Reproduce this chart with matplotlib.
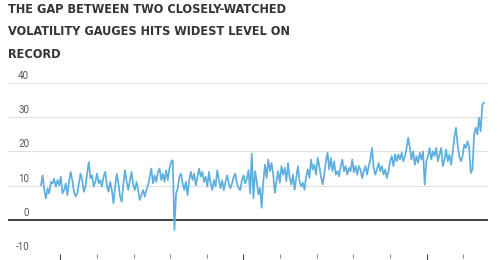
import numpy as np
import pandas as pd
import matplotlib
matplotlib.use("Agg")
import matplotlib.pyplot as plt
import matplotlib.transforms as mtransforms
from matplotlib import font_manager

# gap between the two gauges (left -> right)
gap_a = [10.1, 13, 8.7, 6.3, 9.2, 7.7, 11.1, 10.6, 12, 9.7, 11.6, 10.1, 12.6, 7.7, 8.7,
         10.6, 7.2, 11.1, 14, 11.6, 8.2, 6.8, 7.7, 10.6, 13.5, 11.6, 8.2, 9.7, 13.5, 16.9,
         12.1, 13, 9.7, 11.1, 13.5, 10.6, 11.6, 9.7, 12.6, 14, 10.1, 8.2, 11.1, 8.7, 4.8,
         9.7, 13.5, 10.6, 6.8, 5.3, 10.6, 14.5, 11.1, 8.7, 11.6, 14, 10.1, 8.7, 11.1, 8.7,
         5.8, 7.2, 8.7, 6.8, 8.7, 10.1, 12.6, 15, 10.6, 13, 11.1, 14, 15, 11.6, 13.5,
         11.1, 14.5, 11.6, 15, 16.9, 17.4, -3.0, 7.5, 9.2, 12.6, 13.5, 10.6, 8.7, 11.1, 7.2,
         11.6, 14, 11.6, 13.5, 10.1, 12.6, 15, 12.6, 14, 11.1, 12.6, 9.7, 14, 10.6, 8.7,
         11.6, 9.7, 14.5, 11.6, 9.2, 11.6, 8.7, 11.1, 13, 10.6, 9.2, 10.6, 12.6, 13.5, 10.6,
         9.2, 8.7, 11.6, 13, 10.6, 12, 14.5, 7.7, 19.3, 6.3]
gap_b = [14.2, 11.3, 7.4, 9.3, 3.5, 11.3, 16.1, 12.2, 17.6, 14.2, 16.6, 13.2, 7.9, 11.3,
         14.2, 10.8, 15.7, 13.2, 15.2, 11.3, 16.6, 12.2, 10.3, 13.2, 8.8, 12.2, 15.7, 11.3,
         9.8, 10.8, 8.8, 12.7, 14.7, 12.2, 17.6, 14.7, 16.1, 13.2, 18.1, 15.7, 12.7, 10.3,
         13.2, 17.1, 19.6, 14.7, 18.1, 14.2, 17.1, 13.2, 14.2, 12.7, 15.7, 17.6, 14.2, 15.7,
         13.2, 15.2, 14.2, 17.6, 13.9, 15.7, 13.2, 15.7, 14.7, 12.2, 14.2, 15.7, 13.2, 15.7,
         17.6, 21, 15.2, 13.2, 14.7, 16.6, 14.2, 15.7, 13.2, 14.7, 12.2, 14.2, 17.1, 18.6,
         15.7, 19.1, 17.1, 19.1, 17.6, 19.6, 17.1, 18.6, 21, 24, 21, 17.6, 20, 16.1, 18.6,
         16.6, 19.6, 17.6, 20, 10.3, 17.1, 18.6, 21, 17.6, 20, 18.6, 21, 17.1, 19.1, 21,
         15.7, 17.6, 20.5, 17.1, 19.1, 16.1, 19.6, 24, 26.9, 22, 18.6, 17.1, 18.6, 22, 21,
         23, 21, 13.7, 14.7, 24.9, 26.9, 24.9, 29.8, 25.9, 33.7, 34.2]
gap = gap_a + gap_b

start_date = "2006-06-23"
end_date = "2018-07-25"
dates = pd.date_range(start_date, end_date, periods=len(gap))

y_ticks = [-10, 0, 10, 20, 30, 40]
major_years = [2007, 2012, 2017]
minor_years = [2008, 2009, 2010, 2011, 2013, 2014, 2015, 2016, 2018]

title = "THE GAP BETWEEN TWO CLOSELY-WATCHED\nVOLATILITY GAUGES HITS WIDEST LEVEL ON\nRECORD"

# look for a narrow bold face for the headline
title_font = None
for key in ["LiberationSansNarrow-Bold", "DejaVuSansCondensed-Bold", "RobotoCondensed-Bold",
            "OpenSans_Condensed-Bold", "OpenSansCondensed-Bold"]:
    hits = [f.fname for f in font_manager.fontManager.ttflist if key in f.fname.replace(" ", "")]
    if hits:
        title_font = font_manager.FontProperties(fname=hits[0], size=9.1)
        break
if title_font is None:
    title_font = font_manager.FontProperties(family="Roboto", weight="bold", size=8.5)

fig = plt.figure(figsize=(5, 2.6), dpi=100)
ax = fig.add_axes([0.016, 0.023, 0.96, 0.658])

ax.plot(dates, gap, color="#5eaede", lw=1.25, zorder=3)

for v in y_ticks:
    if v == 0:
        ax.axhline(0, color="#222222", lw=1.2, zorder=2)
    else:
        ax.axhline(v, color="#e0e0e0", lw=0.8, zorder=1)
    off = mtransforms.offset_copy(ax.get_yaxis_transform(), fig=fig, y=1.5, units="points")
    ax.text(0.044, v, str(v), transform=off, ha="right", va="bottom",
            fontsize=7, color="#555555", family="Roboto")

ax.set_ylim(-10, 40)
ax.set_xlim(pd.Timestamp("2005-07-29"), pd.Timestamp("2018-09-03"))
ax.set_yticks([])
ax.set_xticks([pd.Timestamp(f"{y}-01-01") for y in major_years])
ax.set_xticks([pd.Timestamp(f"{y}-01-01") for y in minor_years], minor=True)
ax.set_xticklabels([])
ax.tick_params(axis="x", which="major", length=5, width=0.8, color="#444444")
ax.tick_params(axis="x", which="minor", length=3, width=0.8, color="#888888")
for s in ax.spines.values():
    s.set_visible(False)

fig.text(0.016, 0.99, title, ha="left", va="top", fontproperties=title_font,
         color="#353535", linespacing=1.97)

fig.savefig("out.png", dpi=100)
